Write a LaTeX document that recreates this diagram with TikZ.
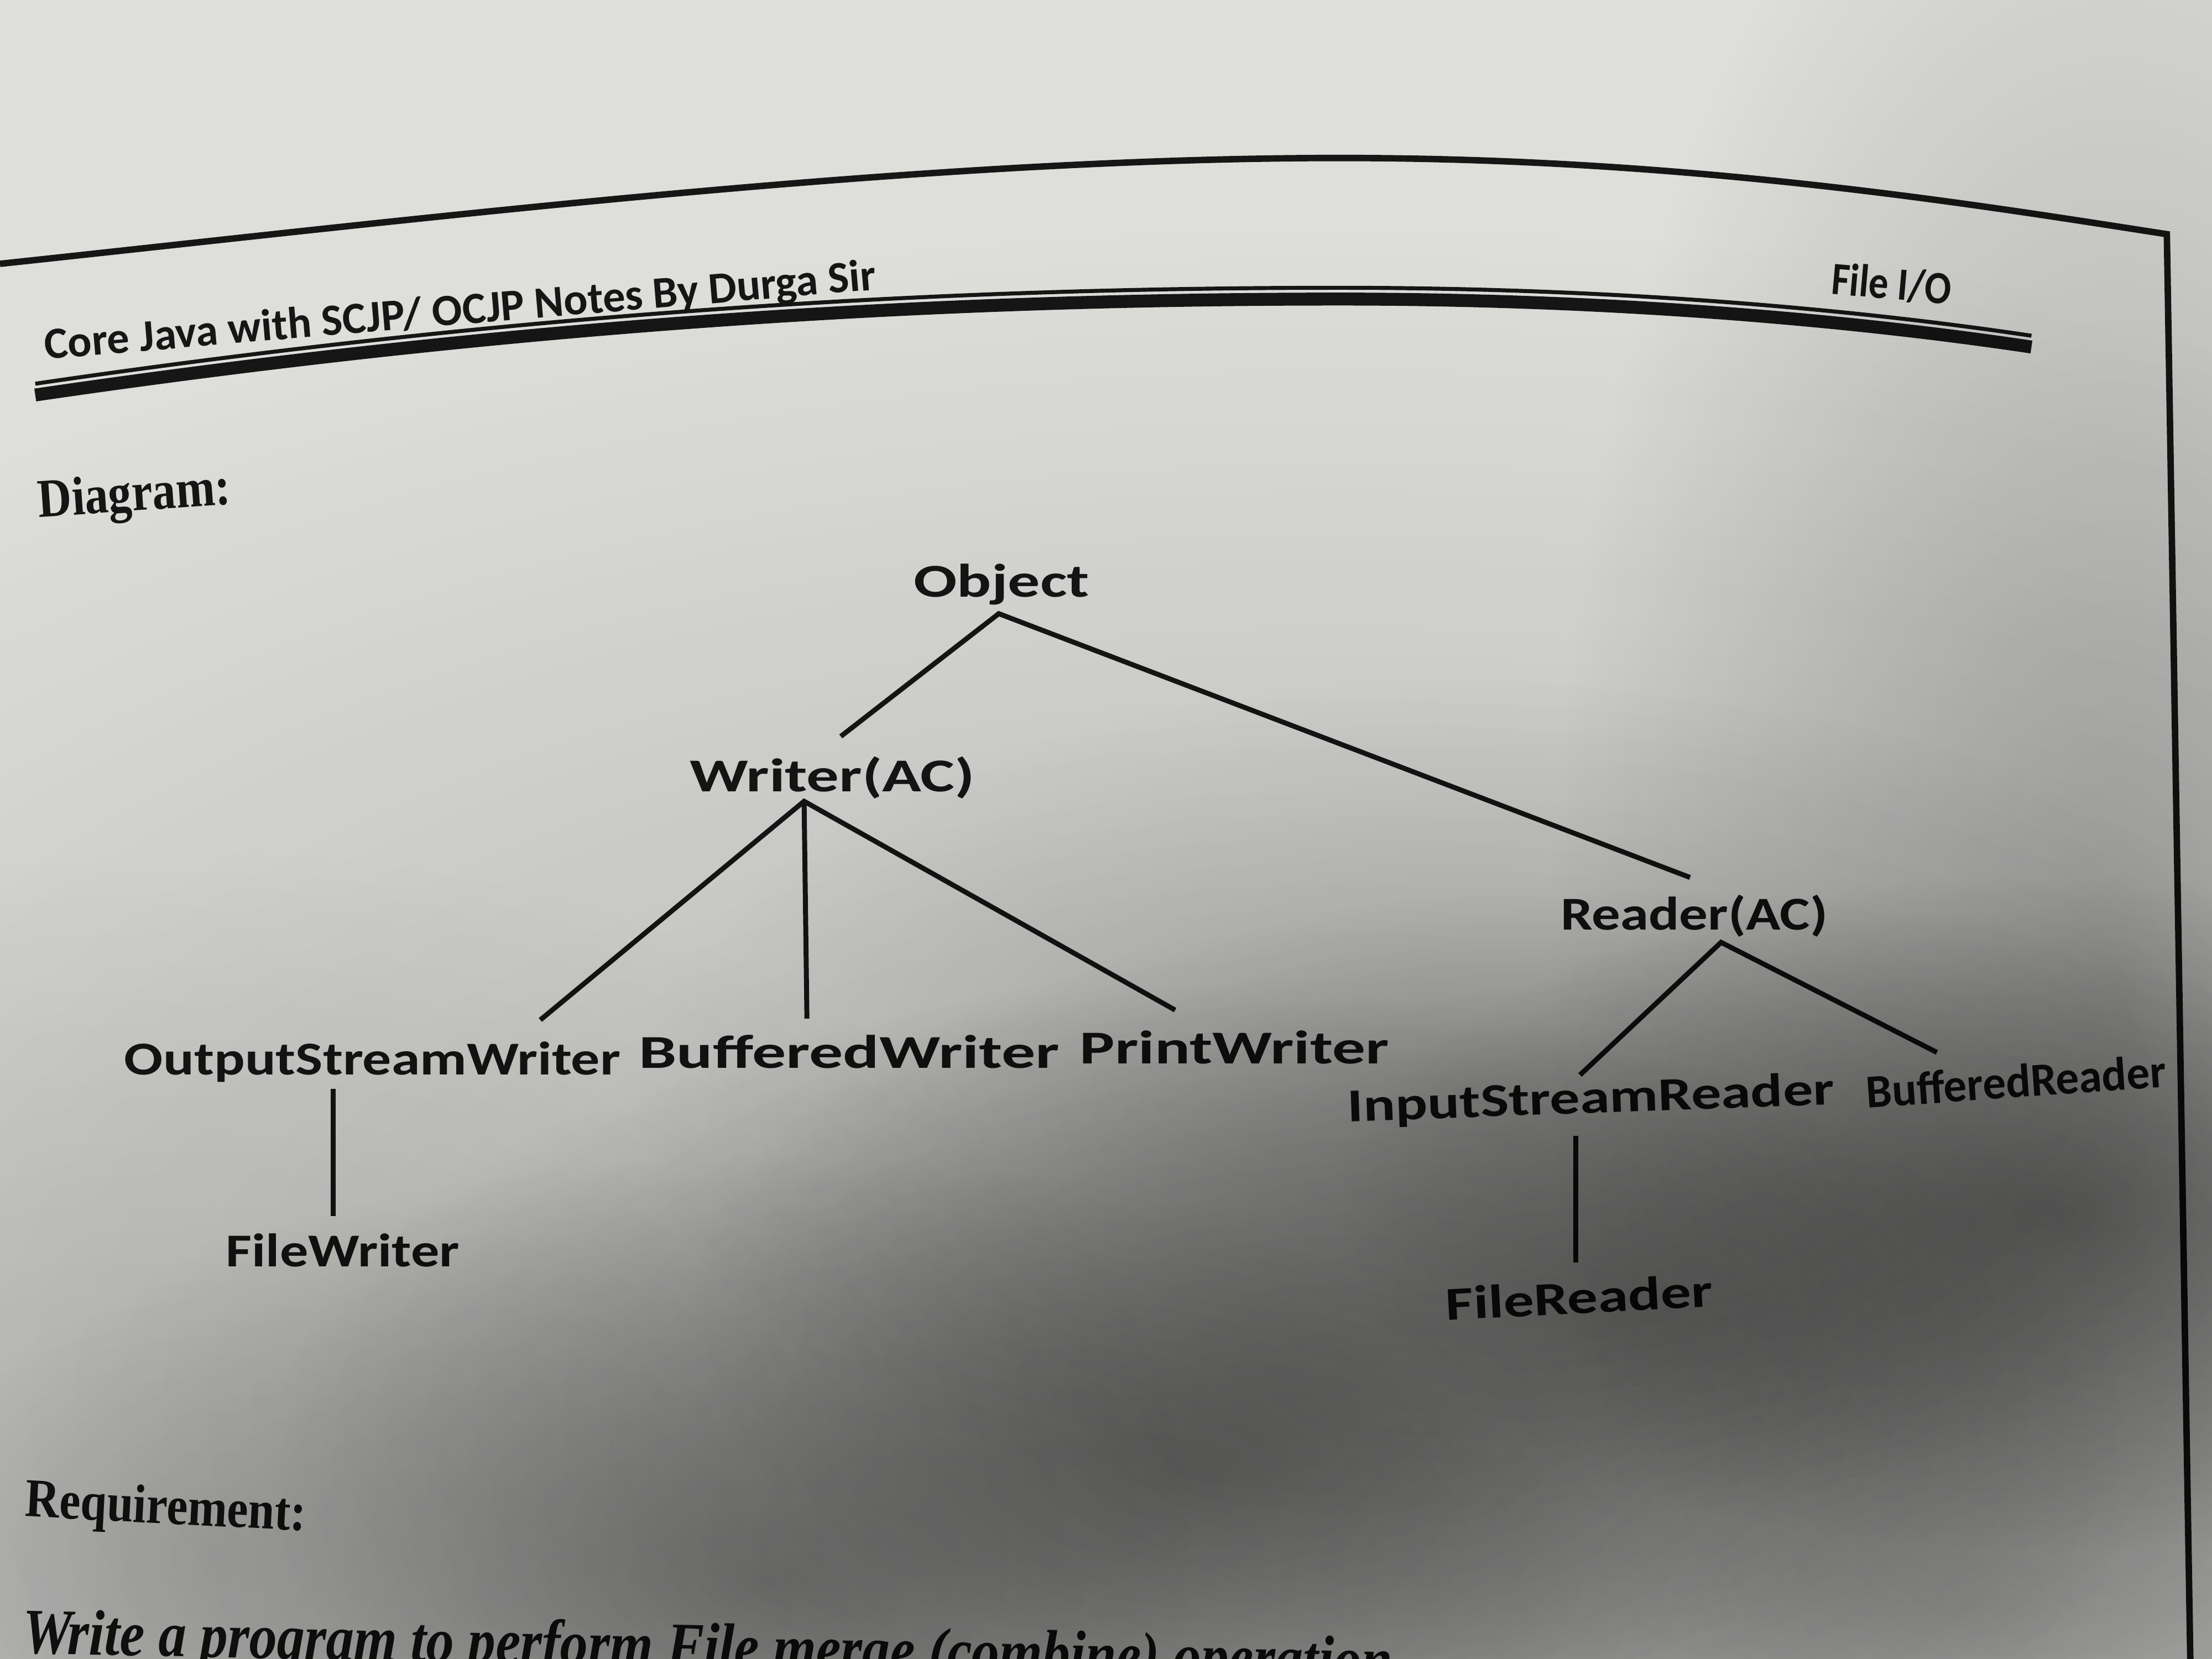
\documentclass[tikz,border=0pt]{standalone}
\usepackage{fontspec}
\setmainfont{Liberation Serif}
\newfontfamily\calib{Carlito}
\usetikzlibrary{calc,fadings}

\definecolor{paper}{RGB}{222,222,219}
\definecolor{ink}{RGB}{22,22,22}

% soft round spot used for the uneven lighting of the sheet
\tikzfading[name=softspot, inner color=transparent!0, outer color=transparent!100]

% horizontal stretch of a piece of text
\newcommand\stretchto[2]{\scalebox{#1}[1]{#2}}

\begin{document}
\begin{tikzpicture}[x=0.01cm, y=-0.01cm,
  lbl/.style={font=\calib\bfseries\fontsize{9.5}{11}\selectfont, text=ink, inner sep=0pt, anchor=base},
  head/.style={font=\calib\bfseries\fontsize{9}{11}\selectfont, text=ink, inner sep=0pt, anchor=base},
  serifhead/.style={font=\bfseries\fontsize{11}{13}\selectfont, text=ink, inner sep=0pt, anchor=base},
  conn/.style={draw=ink, line width=1pt, line join=miter},
  frame/.style={draw=ink, line width=1.3pt, line join=miter},
  shadow/.style={fill=black, path fading=softspot}
]
\useasboundingbox (0,0) rectangle (1568,1176);
\clip (0,0) rectangle (1568,1176);
\fill[paper] (0,0) rectangle (1568,1176);

% page frame: curved top edge and right edge
\draw[frame] (0,187) .. controls (300,155) and (650,112) .. (950,112)
  .. controls (1200,112) and (1400,145) .. (1536,166) -- (1553,1200);

% running head with its double rule
\node[head, rotate=4.8] (title) at (327,230) {\stretchto{1.0}{Core Java with SCJP/ OCJP Notes By Durga Sir}};
\node[head, rotate=-5] (topic) at (1340,212) {\fontsize{9.3}{11}\selectfont\stretchto{0.85}{File I/O}};
\draw[ink, line width=2.6pt] (25,280) .. controls (400,225) and (700,212) .. (950,212)
  .. controls (1150,212) and (1320,228) .. (1440,246);
\draw[ink, line width=0.8pt] (25,272) .. controls (400,217) and (700,204) .. (950,204)
  .. controls (1150,204) and (1320,220) .. (1440,238);

% section headings
\node[serifhead, rotate=4] (diagram) at (96,362) {\stretchto{0.86}{Diagram:}};
\node[serifhead, rotate=-3] (requirement) at (117,1080) {\stretchto{0.87}{Requirement:}};
\node[serifhead, font=\bfseries\itshape\fontsize{13}{15}\selectfont, rotate=-1.2, anchor=base west]
  (task) at (15,1172) {\stretchto{0.86}{\underline{Write a program to perform File merge (combine) operation}}};

% class hierarchy
\node[lbl] (object) at (710,423) {\stretchto{1.36}{Object}};
\node[lbl] (writer) at (590,561) {\stretchto{1.37}{Writer(AC)}};
\node[lbl] (osw) at (264,762) {\stretchto{1.22}{OutputStreamWriter}};
\node[lbl] (bw) at (602,757) {\stretchto{1.43}{BufferedWriter}};
\node[lbl] (pw) at (875,754) {\stretchto{1.40}{PrintWriter}};
\node[lbl] (fw) at (243,898) {\stretchto{1.20}{FileWriter}};
\node[lbl] (reader) at (1201,659) {\stretchto{1.21}{Reader(AC)}};
\node[lbl, rotate=2] (isr) at (1128,789) {\stretchto{1.27}{InputStreamReader}};
\node[lbl, rotate=4] (br) at (1430,778) {\stretchto{0.98}{BufferedReader}};
\node[lbl, rotate=3] (fr) at (1120,931) {\stretchto{1.29}{FileReader}};

\draw[conn] ($(writer.base)+(6,-39)$) -- ($(object.base)+(-2,12)$) -- ($(reader.base)+(-3,-37)$);
\draw[conn] ($(osw.base)+(119,-39)$) -- ($(writer.base)+(-20,7)$) -- ($(pw.base)+(-42,-38)$);
\draw[conn] ($(writer.base)+(-20,7)$) -- ($(bw.base)+(-30,-35)$);
\draw[conn] ($(osw.base)+(-28,10)$) -- ($(fw.base)+(-7,-36)$);
\draw[conn] ($(isr.base)+(-8,-27)$) -- ($(reader.base)+(19,9)$) -- ($(br.base)+(-57,-32)$);
\draw[conn] ($(isr.base)+(-11,16)$) -- ($(fr.base)+(-3,-36)$);

% uneven lighting of the sheet: a dark arc rising to the right
\fill[shadow, opacity=0.30] (550,1120) ellipse (640 and 300);
\fill[shadow, opacity=0.35] (850,1040) ellipse (660 and 340);
\fill[shadow, opacity=0.30] (1150,930) ellipse (660 and 300);
\fill[shadow, opacity=0.35] (1450,860) ellipse (500 and 240);
\fill[shadow, opacity=0.20] (950,1000) ellipse (1600 and 840);
\fill[shadow, opacity=0.15] (1400,1140) ellipse (500 and 240);
\fill[shadow, opacity=0.25] (1500,700) ellipse (400 and 900);
\fill[shadow, opacity=0.15] (150,1100) ellipse (700 and 500);
\fill[shadow, opacity=0.20] (1050,780) ellipse (600 and 300);
\end{tikzpicture}
\end{document}
